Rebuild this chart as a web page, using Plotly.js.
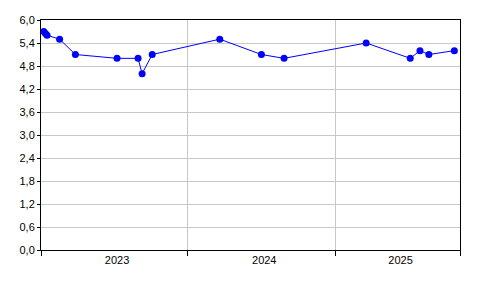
<!DOCTYPE html>
<html>
<head>
<meta charset="utf-8">
<script src="https://cdn.plot.ly/plotly-3.0.1.min.js"></script>
<style>html,body{margin:0;padding:0;background:#fff;}#chart{width:496px;height:296px;}</style>
</head>
<body>
<div id="chart"></div>
<script>
var dates = ['2023-01-12','2023-01-16','2023-01-20','2023-02-20','2023-03-31','2023-07-12','2023-09-02','2023-09-12','2023-10-07','2024-03-22','2024-07-03','2024-08-28','2025-03-19','2025-07-06','2025-07-30','2025-08-21','2025-10-23'];
var values = [5.7, 5.65, 5.6, 5.5, 5.1, 5.0, 5.0, 4.6, 5.1, 5.5, 5.1, 5.0, 5.4, 5.0, 5.2, 5.1, 5.2];
var xRange = ['2023-01-05', '2025-11-06'];
var yearBoundaries = ['2023-01-05', '2024-01-01', '2025-01-01', '2025-11-06'];
var yearLabelPos = ['2023-07-12', '2024-07-10', '2025-06-12'];
var yearLabels = ['2023', '2024', '2025'];

var trace = {
  x: dates, y: values, type: 'scatter', mode: 'lines+markers',
  line: {color: '#0000ff', width: 1},
  marker: {color: '#0000ff', size: 7},
  hoverinfo: 'skip'
};
var font = {family: 'Liberation Sans, Arial, sans-serif', size: 11, color: '#000'};
var layout = {
  width: 496, height: 296,
  margin: {l: 41, r: 36, t: 20, b: 46},
  paper_bgcolor: '#fff', plot_bgcolor: '#fff',
  separators: ', ',
  font: font,
  showlegend: false,
  xaxis: {
    type: 'date', range: xRange,
    tickmode: 'array', tickvals: yearLabelPos, ticktext: yearLabels,
    ticks: '', showgrid: false, zeroline: false,
    showline: true, linecolor: '#000', linewidth: 1, mirror: true,
    tickfont: font,
    minor: {tickmode: 'array', tickvals: yearBoundaries, ticks: 'outside', ticklen: 5, tickcolor: '#000', showgrid: true, gridcolor: '#c8c8c8', gridwidth: 1}
  },
  yaxis: {
    range: [0, 6], tickmode: 'linear', tick0: 0, dtick: 0.6, tickformat: '.1f',
    ticks: 'outside', ticklen: 3, tickcolor: '#000',
    showgrid: true, gridcolor: '#c8c8c8', gridwidth: 1, zeroline: false,
    showline: true, linecolor: '#000', linewidth: 1, mirror: true,
    tickfont: font
  }
};
Plotly.newPlot('chart', [trace], layout, {displayModeBar: false, staticPlot: true});
</script>
</body>
</html>
